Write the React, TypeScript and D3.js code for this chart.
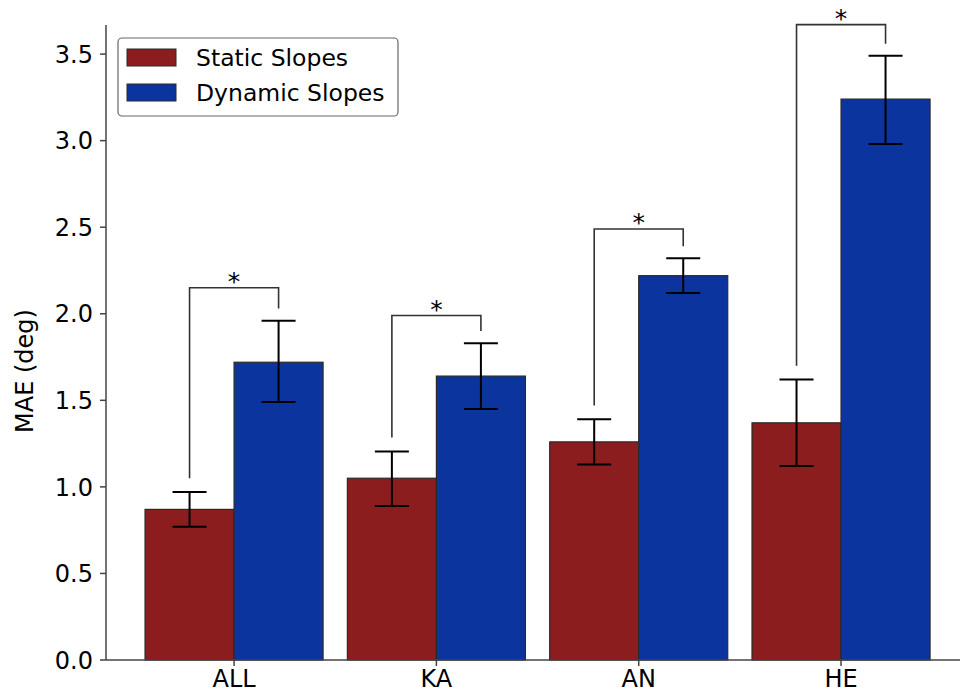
import React from 'react';
import * as d3 from 'd3';

const categories = ['ALL', 'KA', 'AN', 'HE'];
const staticMean = [0.87, 1.05, 1.26, 1.37];
const staticLo = [0.77, 0.89, 1.13, 1.12];
const staticHi = [0.97, 1.205, 1.39, 1.62];
const dynamicMean = [1.72, 1.64, 2.22, 3.24];
const dynamicLo = [1.49, 1.45, 2.12, 2.98];
const dynamicHi = [1.96, 1.83, 2.32, 3.49];
// height of the significance bracket for each group
const bracketTop = [2.15, 1.99, 2.49, 3.67];
const yTicks = [0, 0.5, 1, 1.5, 2, 2.5, 3, 3.5];
const seriesNames = ['Static Slopes', 'Dynamic Slopes'];
const seriesColors = ['#8c1d1f', '#0b349e'];

const W = 960;
const H = 693;
const font = 'DejaVu Sans, sans-serif';
const barW = 0.44;

const xScale = d3.scaleLinear().domain([-0.633, 3.588]).range([106, 960]);
const yScale = d3.scaleLinear().domain([0, 3.668]).range([660, 25]);

export default function App() {
  const x = xScale;
  const y = yScale;
  const series = [
    { mean: staticMean, lo: staticLo, hi: staticHi, off: -barW / 2 },
    { mean: dynamicMean, lo: dynamicLo, hi: dynamicHi, off: barW / 2 },
  ];

  return (
    <svg width={W} height={H} style={{ position: 'absolute', left: 0, top: 0, background: '#fff' }}>
      {/* bars */}
      {series.map((s, si) =>
        categories.map((c, i) => (
          <rect key={c + si}
            x={x(i + s.off - barW / 2)} y={y(s.mean[i])}
            width={x(barW) - x(0)} height={y(0) - y(s.mean[i])}
            fill={seriesColors[si]} stroke="#2a2a2a" strokeWidth={1.2} />
        ))
      )}
      {/* error bars */}
      {series.map((s, si) =>
        categories.map((c, i) => {
          const cx = x(i + s.off);
          return (
            <g key={'e' + c + si} stroke="#000" strokeWidth={2}>
              <line x1={cx} x2={cx} y1={y(s.lo[i])} y2={y(s.hi[i])} />
              <line x1={cx - 17} x2={cx + 17} y1={y(s.lo[i])} y2={y(s.lo[i])} />
              <line x1={cx - 17} x2={cx + 17} y1={y(s.hi[i])} y2={y(s.hi[i])} />
            </g>
          );
        })
      )}
      {/* significance brackets */}
      {categories.map((c, i) => {
        const top = bracketTop[i];
        const x1 = x(i - barW / 2);
        const x2 = x(i + barW / 2);
        const path = d3.path();
        path.moveTo(x1, y(staticHi[i] + 0.08));
        path.lineTo(x1, y(top));
        path.lineTo(x2, y(top));
        path.lineTo(x2, y(dynamicHi[i] + 0.07));
        return (
          <g key={'b' + c}>
            <path d={path.toString()} fill="none" stroke="#333" strokeWidth={1.6} />
            <text x={(x1 + x2) / 2} y={y(top) + 2.5} textAnchor="middle"
              fontFamily={font} fontSize={25} fill="#000">*</text>
          </g>
        );
      })}
      {/* axes */}
      <line x1={106} x2={106} y1={y(3.668)} y2={y(0)} stroke="#444" strokeWidth={1.5} />
      <line x1={106} x2={960} y1={y(0)} y2={y(0)} stroke="#444" strokeWidth={1.5} />
      {yTicks.map((t) => (
        <g key={'yt' + t}>
          <line x1={100} x2={106} y1={y(t)} y2={y(t)} stroke="#444" strokeWidth={1.5} />
          <text x={93} y={y(t)} dy="0.36em" textAnchor="end" fontFamily={font} fontSize={24} fill="#000">
            {d3.format('.1f')(t)}
          </text>
        </g>
      ))}
      {categories.map((c, i) => (
        <g key={'xt' + c}>
          <line x1={x(i)} x2={x(i)} y1={y(0)} y2={y(0) + 6} stroke="#444" strokeWidth={1.5} />
          <text x={x(i)} y={687} textAnchor="middle" fontFamily={font} fontSize={24} fill="#000">{c}</text>
        </g>
      ))}
      <text transform={`translate(33,371) rotate(-90)`} textAnchor="middle"
        fontFamily={font} fontSize={24} fill="#000">MAE (deg)</text>
      {/* legend */}
      <g>
        <rect x={118} y={38} width={280} height={78} rx={4} fill="#fff" stroke="#666" strokeWidth={1.2} />
        {seriesNames.map((n, i) => (
          <g key={n}>
            <rect x={127} y={49 + i * 35} width={49} height={17} fill={seriesColors[i]} stroke="#2a2a2a" strokeWidth={1} />
            <text x={196} y={57.5 + i * 35} dy="0.36em" fontFamily={font} fontSize={23.5} fill="#000">{n}</text>
          </g>
        ))}
      </g>
    </svg>
  );
}
